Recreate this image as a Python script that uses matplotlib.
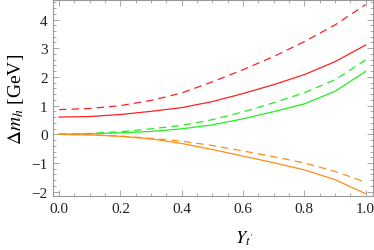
import numpy as np
import matplotlib
matplotlib.use('Agg')
import matplotlib.pyplot as plt
from matplotlib.ticker import MultipleLocator

# x values (Y_t')
x = [0.0, 0.1, 0.2, 0.3, 0.4, 0.5, 0.6, 0.7, 0.8, 0.9, 1.0]

# Delta m_h [GeV]
red_dashed = [0.86, 0.90, 1.00, 1.18, 1.44, 1.83, 2.25, 2.71, 3.23, 3.81, 4.52]
red_solid = [0.60, 0.62, 0.69, 0.80, 0.93, 1.14, 1.42, 1.73, 2.08, 2.53, 3.11]
green_dashed = [0.0, 0.03, 0.09, 0.19, 0.31, 0.51, 0.78, 1.10, 1.45, 1.90, 2.59]
green_solid = [0.0, 0.02, 0.05, 0.10, 0.19, 0.33, 0.54, 0.79, 1.06, 1.50, 2.19]
orange_dashed = [0.0, -0.02, -0.06, -0.14, -0.24, -0.39, -0.58, -0.78, -1.00, -1.29, -1.67]
orange_solid = [0.0, -0.02, -0.07, -0.16, -0.32, -0.53, -0.76, -0.99, -1.24, -1.58, -2.07]

plt.rcParams['font.family'] = ['Liberation Serif', 'DejaVu Serif']
plt.rcParams['mathtext.fontset'] = 'stix'

fig = plt.figure(figsize=(3.74, 2.51), dpi=100)
ax = fig.add_axes([0.1425, 0.214, 0.854, 0.782])

red, green, orange = '#ff2020', '#22ee22', '#ff8c1a'
lw = 0.9
dash = (0, (6, 4))
ax.plot(x, red_dashed, color=red, lw=lw, linestyle=dash)
ax.plot(x, red_solid, color=red, lw=lw)
ax.plot(x, green_dashed, color=green, lw=lw, linestyle=dash)
ax.plot(x, green_solid, color=green, lw=lw)
ax.plot(x, orange_dashed, color=orange, lw=lw, linestyle=dash)
ax.plot(x, orange_solid, color=orange, lw=lw)

ax.set_xlim(-0.019, 1.023)
ax.set_ylim(-2.16, 4.68)

ax.xaxis.set_major_locator(MultipleLocator(0.2))
ax.xaxis.set_minor_locator(MultipleLocator(0.05))
ax.yaxis.set_major_locator(MultipleLocator(1))
ax.yaxis.set_minor_locator(MultipleLocator(0.2))
ax.xaxis.set_major_formatter(matplotlib.ticker.FormatStrFormatter('%.1f'))
ax.yaxis.set_major_formatter(matplotlib.ticker.FuncFormatter(
    lambda v, p: '\u2212%d' % abs(v) if v < 0 else '%d' % v))

frame = '#999999'
for s in ax.spines.values():
    s.set_color(frame)
    s.set_linewidth(0.8)
ax.tick_params(which='both', direction='in', top=True, right=True,
               color=frame, labelsize=11, labelcolor='#222222', width=0.6)
ax.tick_params(which='major', length=4, pad=4)
ax.tick_params(which='minor', length=2)

ax.set_xlabel(r"$Y_{t^{\prime}}$", fontsize=13)
ax.xaxis.set_label_coords(0.597, -0.165)
ax.set_ylabel(r"$\Delta m_h$ [GeV]", fontsize=14, labelpad=4)

fig.savefig('out.png', dpi=100)
